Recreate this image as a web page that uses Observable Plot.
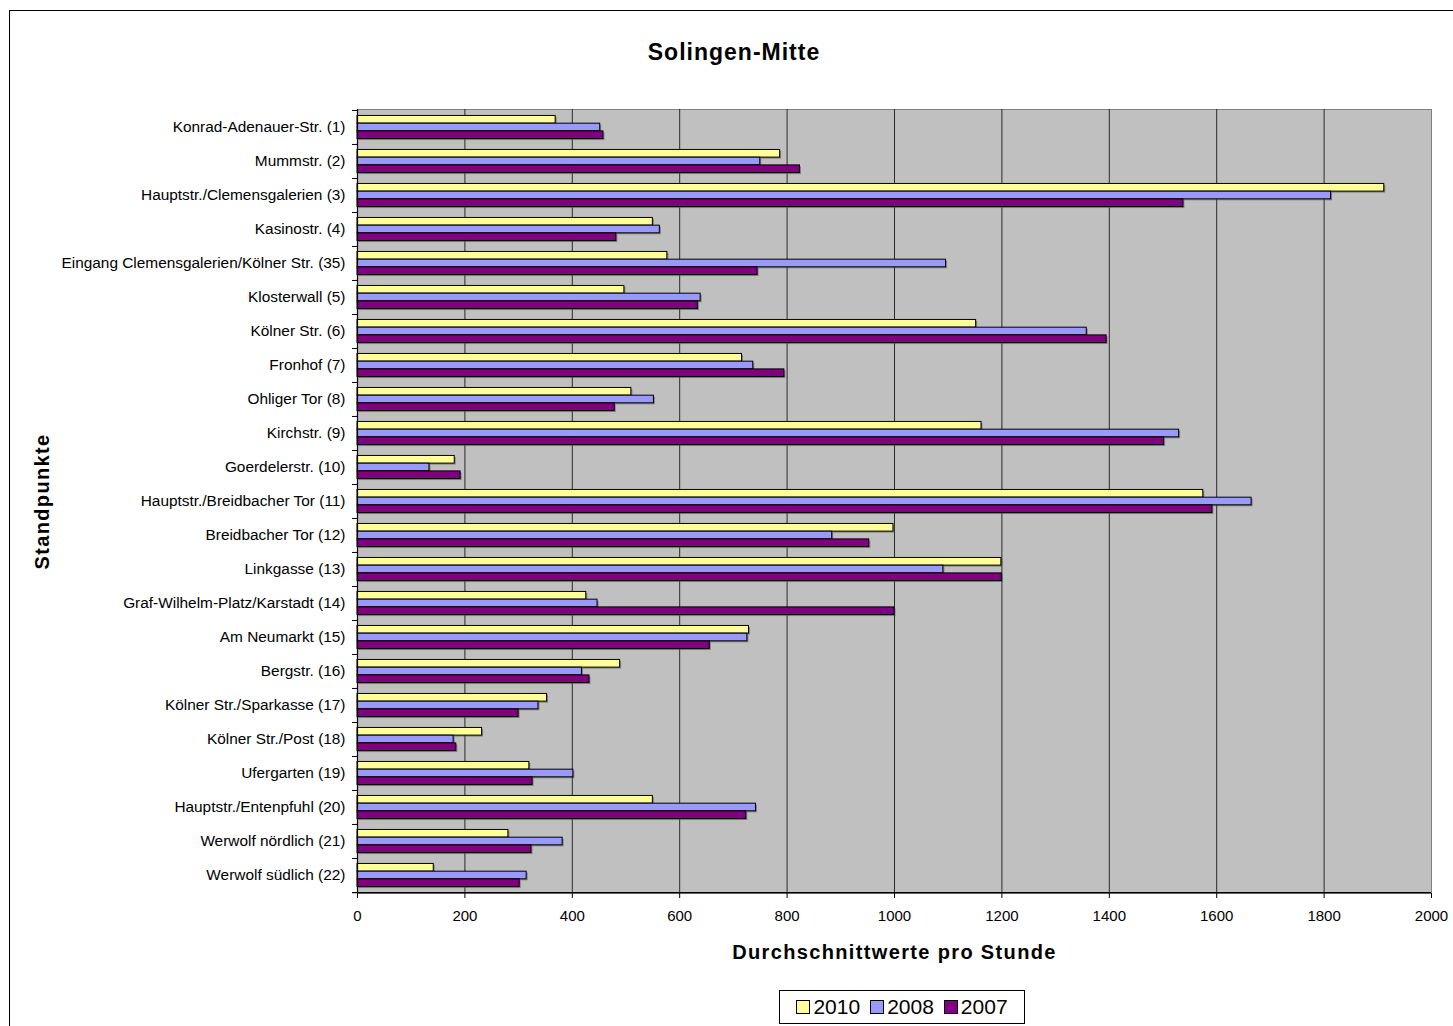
<!DOCTYPE html>
<html>
<head>
<meta charset="utf-8">
<script src="https://cdn.jsdelivr.net/npm/d3@7"></script>
<script src="https://cdn.jsdelivr.net/npm/@observablehq/plot@0.6"></script>
<style>
html, body { margin: 0; padding: 0; background: #fff; }
body { width: 1453px; height: 1026px; overflow: hidden; position: relative; font-family: "Liberation Sans", Arial, sans-serif; color: #000; }
#frame { position: absolute; left: 9px; top: 10px; width: 1450px; height: 1040px; border: 1px solid #000; box-sizing: border-box; }
#title { position: absolute; left: 534px; width: 400px; top: 37px; text-align: center; font-weight: bold; font-size: 23px; letter-spacing: 1px; line-height: 30px; }
#chart { position: absolute; left: 0; top: 75px; }
#legend { position: absolute; left: 779px; top: 990px; width: 246px; height: 34px; border: 1px solid #000; box-sizing: border-box; display: flex; align-items: center; justify-content: center; gap: 10px; background: #fff; font-size: 21px; }
.item { display: flex; align-items: center; gap: 3px; }
.sw { width: 14px; height: 14px; border: 1px solid #000; box-sizing: border-box; }
</style>
</head>
<body>
<div id="frame"></div>
<div id="title">Solingen-Mitte</div>
<div id="chart"></div>
<div id="legend"></div>
<script>
const categories = [
  "Konrad-Adenauer-Str. (1)",
  "Mummstr. (2)",
  "Hauptstr./Clemensgalerien (3)",
  "Kasinostr. (4)",
  "Eingang Clemensgalerien/Kölner Str. (35)",
  "Klosterwall (5)",
  "Kölner Str. (6)",
  "Fronhof (7)",
  "Ohliger Tor (8)",
  "Kirchstr. (9)",
  "Goerdelerstr. (10)",
  "Hauptstr./Breidbacher Tor (11)",
  "Breidbacher Tor (12)",
  "Linkgasse (13)",
  "Graf-Wilhelm-Platz/Karstadt (14)",
  "Am Neumarkt (15)",
  "Bergstr. (16)",
  "Kölner Str./Sparkasse (17)",
  "Kölner Str./Post (18)",
  "Ufergarten (19)",
  "Hauptstr./Entenpfuhl (20)",
  "Werwolf nördlich (21)",
  "Werwolf südlich (22)"
];
const years = ["2010", "2008", "2007"];
const values2010 = [369, 787, 1912, 550, 577, 497, 1152, 716, 510, 1162, 181, 1575, 998, 1199, 426, 729, 489, 353, 232, 320, 550, 281, 142];
const values2008 = [452, 750, 1813, 563, 1096, 639, 1358, 737, 552, 1530, 134, 1665, 884, 1091, 447, 726, 418, 337, 179, 402, 742, 382, 315];
const values2007 = [458, 824, 1538, 482, 745, 634, 1395, 795, 479, 1502, 192, 1592, 953, 1200, 1000, 656, 432, 300, 184, 326, 724, 324, 302];
const xTicks = [0, 200, 400, 600, 800, 1000, 1200, 1400, 1600, 1800, 2000];
const colors = ["#FFFF99", "#9999FF", "#800080"];
const xTitle = "Durchschnittwerte pro Stunde";
const yTitle = "Standpunkte";

const series = [values2010, values2008, values2007];
const rows = categories.flatMap((c, i) => years.map((yr, k) => ({cat: c, year: yr, value: series[k][i]})));

const width = 1453, height = 900;
const marginTop = 34, marginBottom = 82, marginLeft = 357, marginRight = 22;
const bw = (height - marginTop - marginBottom) / categories.length;
const pad = bw * 0.16;
const barH = (bw - 2 * pad) / 3;

const shadowMarks = years.map((yr, k) => Plot.barX(rows.filter(d => d.year === yr), {
  y: "cat", x: "value", fill: "#4a4a4a", fillOpacity: 0.55, dx: 1.5, dy: 1.5,
  insetTop: pad + k * barH, insetBottom: bw - pad - (k + 1) * barH
}));
const barMarks = years.map((yr, k) => Plot.barX(rows.filter(d => d.year === yr), {
  y: "cat", x: "value", fill: "year", stroke: "#000", strokeWidth: 1,
  insetTop: pad + k * barH, insetBottom: bw - pad - (k + 1) * barH
}));

const chart = Plot.plot({
  width, height, marginTop, marginBottom, marginLeft, marginRight,
  style: {fontFamily: "'Liberation Sans', Arial, sans-serif", fontSize: "15px", color: "#000", background: "transparent"},
  x: {domain: [0, 2000], label: null},
  y: {domain: categories, padding: 0, label: null},
  color: {domain: years, range: colors},
  marks: [
    Plot.frame({fill: "#C0C0C0", stroke: "#808080"}),
    Plot.ruleX(xTicks.slice(1, -1), {stroke: "#2a2a2a", strokeWidth: 1}),
    ...shadowMarks,
    ...barMarks,
    Plot.ruleX([0], {stroke: "#000", strokeWidth: 1.2}),
    Plot.ruleY(categories, {y: d => d, x1: 0, x2: 0, insetLeft: -5, dy: -bw / 2, stroke: "#000"}),
    Plot.ruleY(categories.slice(-1), {y: d => d, x1: 0, x2: 2000, insetLeft: -5, dy: bw / 2, stroke: "#000", strokeWidth: 1.2}),
    Plot.axisY({tickSize: 0, tickPadding: 12, fontSize: 15.4, label: null}),
    Plot.axisX({ticks: xTicks, tickSize: 5, tickPadding: 12, tickFormat: d => String(d), label: null}),
    Plot.text([xTitle], {frameAnchor: "bottom", dy: 59, text: d => d, textAnchor: "middle", lineAnchor: "middle", fontSize: 20, fontWeight: "bold"}),
    Plot.text([yTitle], {frameAnchor: "left", dx: -315, text: d => d, rotate: -90, textAnchor: "middle", lineAnchor: "middle", fontSize: 20, fontWeight: "bold"})
  ]
});
d3.select(chart).selectAll("text")
  .filter(function () { return this.textContent === xTitle || this.textContent === yTitle; })
  .style("letter-spacing", "1.35px");
document.getElementById("chart").appendChild(chart);

const legend = document.getElementById("legend");
years.forEach((yr, k) => {
  const item = document.createElement("div");
  item.className = "item";
  const sw = document.createElement("div");
  sw.className = "sw";
  sw.style.background = colors[k];
  const t = document.createElement("span");
  t.textContent = yr;
  item.appendChild(sw);
  item.appendChild(t);
  legend.appendChild(item);
});
</script>
</body>
</html>
